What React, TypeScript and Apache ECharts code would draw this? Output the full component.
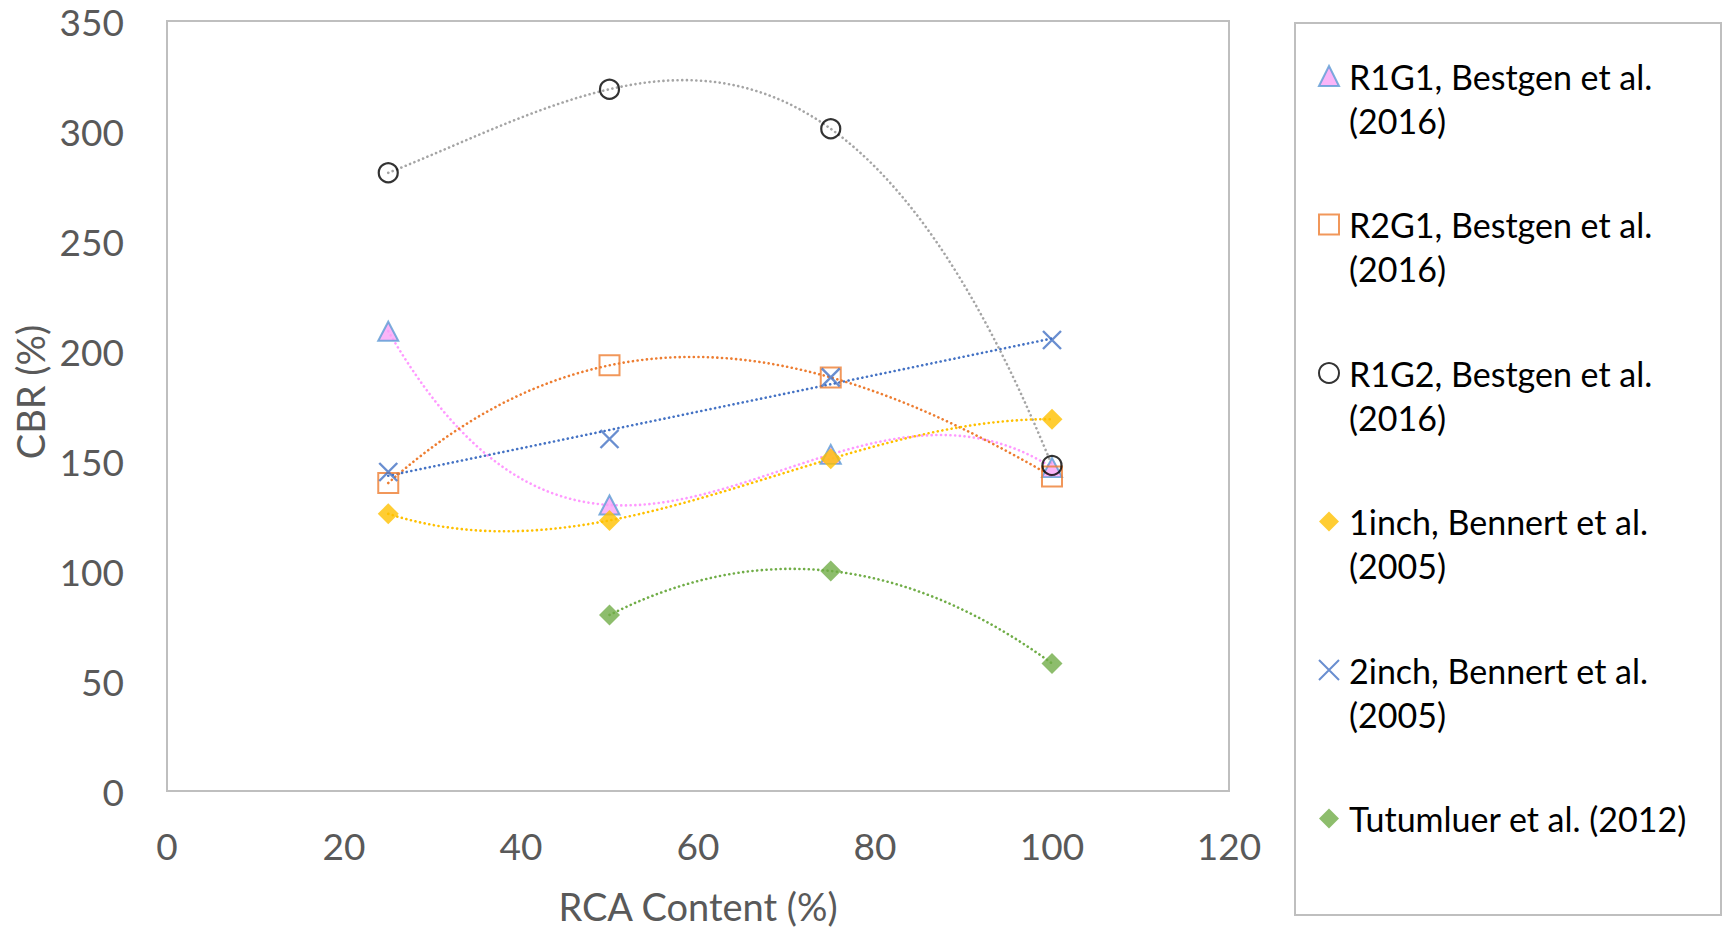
import React, { useEffect, useRef } from "react";
import * as echarts from "echarts";

// ---- data ----
const rcaContent = [25, 50, 75, 100];
const rcaContentTutumluer = [50, 75, 100];
const cbrR1G1 = [209, 130, 153, 147];
const cbrR2G1 = [140, 193.5, 188, 143];
const cbrR1G2 = [281, 319, 301, 148];
const cbr1inch = [126, 123, 151, 169];
const cbr2inch = [145, 160, 188, 205];
const cbrTutumluer = [80, 100, 58];

const seriesNames = [
  "R1G1, Bestgen et al. (2016)",
  "R2G1, Bestgen et al. (2016)",
  "R1G2, Bestgen et al. (2016)",
  "1inch, Bennert et al. (2005)",
  "2inch, Bennert et al. (2005)",
  "Tutumluer et al. (2012)",
];
// first line is left empty so that the icon sits beside the first text line
const legendLabels = [
  "\nR1G1, Bestgen et al.\n(2016)",
  "\nR2G1, Bestgen et al.\n(2016)",
  "\nR1G2, Bestgen et al.\n(2016)",
  "\n1inch, Bennert et al.\n(2005)",
  "\n2inch, Bennert et al.\n(2005)",
  "\nTutumluer et al. (2012)\n",
];
// polynomial order of each series' trendline
const trendOrders = [3, 3, 3, 3, 1, 2];

const FONT = "Lato";
const GREY_TEXT = "#595959";

function polyfit(xs: number[], ys: number[], order: number) {
  const c0 = 62.5;
  const sc = 25;
  const us = xs.map((x) => (x - c0) / sc);
  const n = order + 1;
  const A: number[][] = [];
  for (let r = 0; r < n; r++) {
    const row: number[] = [];
    for (let c = 0; c < n; c++) row.push(us.reduce((s, u) => s + Math.pow(u, r + c), 0));
    row.push(us.reduce((s, u, i) => s + ys[i] * Math.pow(u, r), 0));
    A.push(row);
  }
  for (let i = 0; i < n; i++) {
    let p = i;
    for (let k = i + 1; k < n; k++) if (Math.abs(A[k][i]) > Math.abs(A[p][i])) p = k;
    const t = A[i];
    A[i] = A[p];
    A[p] = t;
    for (let k = i + 1; k < n; k++) {
      const f = A[k][i] / A[i][i];
      for (let c = i; c <= n; c++) A[k][c] -= f * A[i][c];
    }
  }
  const coef = new Array(n).fill(0);
  for (let i = n - 1; i >= 0; i--) {
    let s = A[i][n];
    for (let c = i + 1; c < n; c++) s -= A[i][c] * coef[c];
    coef[i] = s / A[i][i];
  }
  return (x: number) => {
    const u = (x - c0) / sc;
    return coef.reduce((s, a, k) => s + a * Math.pow(u, k), 0);
  };
}

function trendPoints(xs: number[], ys: number[], order: number) {
  const f = polyfit(xs, ys, order);
  const lo = Math.min(...xs);
  const hi = Math.max(...xs);
  const pts: number[][] = [];
  for (let x = lo; x <= hi + 1e-9; x += 0.5) pts.push([x, f(x)]);
  return pts;
}

const X_PATH = "path://M0,0L10,10M10,0L0,10";

export default function App() {
  const ref = useRef<HTMLDivElement>(null);
  useEffect(() => {
    if (!ref.current) return;
    const chart = echarts.init(ref.current, undefined, { renderer: "svg" });

    const xsList = [rcaContent, rcaContent, rcaContent, rcaContent, rcaContent, rcaContentTutumluer];
    const ysList = [cbrR1G1, cbrR2G1, cbrR1G2, cbr1inch, cbr2inch, cbrTutumluer];
    const lineColors = ["#FF99FF", "#ED7D31", "#A5A5A5", "#FFC000", "#4472C4", "#70AD47"];
    const markerStyles: any[] = [
      { symbol: "triangle", symbolSize: [20, 19], itemStyle: { color: "#F9A2F6", borderColor: "#5B9BD5", borderWidth: 2 } },
      { symbol: "rect", symbolSize: 20, itemStyle: { color: "rgba(255,255,255,0)", borderColor: "#ED7D31", borderWidth: 2 } },
      { symbol: "circle", symbolSize: 19, itemStyle: { color: "rgba(255,255,255,0)", borderColor: "#000000", borderWidth: 2.2 } },
      { symbol: "diamond", symbolSize: 21, itemStyle: { color: "#FFC000" } },
      { symbol: X_PATH, symbolSize: 18, itemStyle: { color: "#4472C4", borderColor: "#4472C4", borderWidth: 2.4 } },
      { symbol: "diamond", symbolSize: 21, itemStyle: { color: "#70AD47" } },
    ];

    const trendSeries = seriesNames.map((name, i) => ({
      type: "line",
      name: "trend " + name,
      data: trendPoints(xsList[i], ysList[i], trendOrders[i]),
      showSymbol: false,
      symbol: "none",
      smooth: false,
      silent: true,
      z: 2,
      lineStyle: { color: lineColors[i], width: 2.6, type: [0.1, 4.6], cap: "round" },
    }));
    const pointSeries = seriesNames.map((name, i) => ({
      type: "scatter",
      name,
      data: xsList[i].map((x, k) => [x, ysList[i][k]]),
      silent: true,
      z: 3 + i,
      ...markerStyles[i],
    }));

    chart.setOption({
      animation: false,
      textStyle: { fontFamily: FONT },
      grid: {
        left: 167,
        right: 496,
        top: 21,
        bottom: 136,
        show: true,
        borderColor: "#BFBFBF",
        borderWidth: 2,
        backgroundColor: "transparent",
      },
      xAxis: {
        type: "value",
        min: 0,
        max: 120,
        interval: 20,
        name: "RCA Content (%)",
        nameLocation: "middle",
        nameGap: 96,
        nameTextStyle: { fontSize: 38, color: GREY_TEXT, fontFamily: FONT },
        axisLine: { show: false },
        axisTick: { show: false },
        splitLine: { show: false },
        axisLabel: { fontSize: 37, color: GREY_TEXT, margin: 36, fontFamily: FONT },
      },
      yAxis: {
        type: "value",
        min: 0,
        max: 350,
        interval: 50,
        name: "CBR (%)",
        nameLocation: "middle",
        nameGap: 117,
        nameTextStyle: { fontSize: 38, color: GREY_TEXT, fontFamily: FONT, padding: [0, 0, 0, 28] },
        axisLine: { show: false },
        axisTick: { show: false },
        splitLine: { show: false },
        axisLabel: { fontSize: 37, color: GREY_TEXT, margin: 43, fontFamily: FONT },
      },
      legend: {
        orient: "vertical",
        left: 1318,
        top: 10,
        padding: 0,
        itemGap: 16.5,
        itemWidth: 20,
        itemHeight: 20,
        selectedMode: false,
        formatter: (n: string) => legendLabels[seriesNames.indexOf(n)],
        textStyle: { fontSize: 34, lineHeight: 44, color: "#000000", fontFamily: FONT, padding: [0, 0, 0, 5] },
        data: seriesNames,
      },
      graphic: [
        {
          type: "rect",
          shape: { x: 1295, y: 23, width: 426, height: 892 },
          style: { fill: "none", stroke: "#BFBFBF", lineWidth: 2 },
          silent: true,
        },
      ],
      series: [...trendSeries, ...pointSeries],
    });

    return () => chart.dispose();
  }, []);

  return (
    <div
      ref={ref}
      style={{ position: "fixed", left: 0, top: 0, width: 1725, height: 930, background: "#ffffff" }}
    />
  );
}
